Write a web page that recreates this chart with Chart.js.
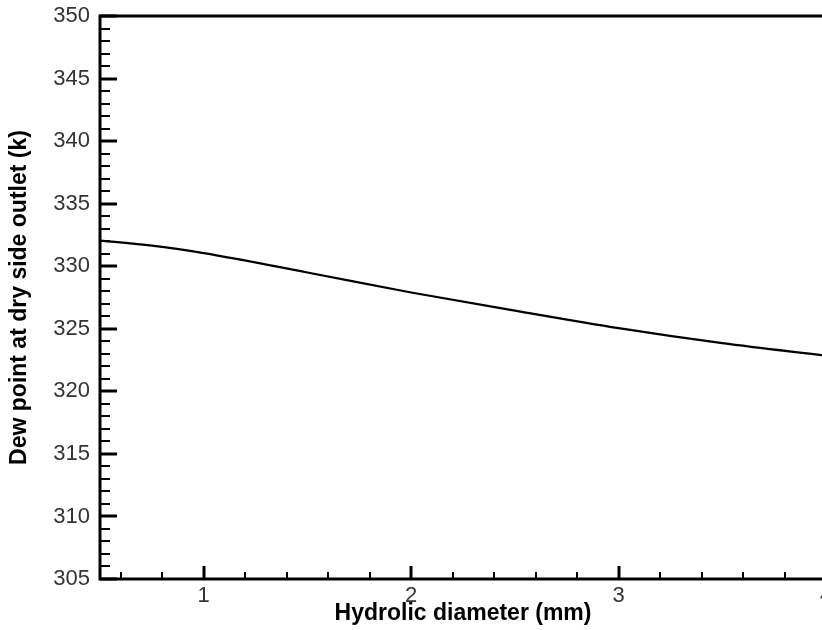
<!DOCTYPE html>
<html>
<head>
<meta charset="utf-8">
<script src="https://cdn.jsdelivr.net/npm/chart.js@4.4.1/dist/chart.umd.min.js"></script>
<style>
  html, body { margin: 0; padding: 0; background: #fff; overflow: hidden; }
  canvas { display: block; }
</style>
</head>
<body>
<canvas id="myChart" width="836" height="630" style="width:836px;height:630px"></canvas>
<script>
// hydraulic diameter (mm) vs dew point at the dry side outlet (K)
const diameters = [0.5, 0.75, 1, 1.5, 2, 2.5, 3, 3.5, 4];
const dewPoints = [332.05, 331.65, 331.05, 329.5, 327.9, 326.45, 325.05, 323.85, 322.85];

const xMajor = [1, 2, 3, 4];
const yMajor = [305, 310, 315, 320, 325, 330, 335, 340, 345, 350];

const points = [];
for (let i = 0; i < diameters.length; i++) {
    points.push({ x: diameters[i], y: dewPoints[i] });
}

const FONT = '"Liberation Sans", Arial, sans-serif';

// frame with ticks pointing into the plot
const frame = {
    id: 'frame',
    afterDraw(chart) {
        const ctx = chart.ctx;
        const area = chart.chartArea;
        const xs = chart.scales.x;
        const ys = chart.scales.y;
        ctx.save();
        ctx.strokeStyle = '#000';
        ctx.lineCap = 'butt';

        // minor ticks
        ctx.lineWidth = 2;
        for (let v = 0.6; v < 4.01; v += 0.2) {
            const px = Math.round(xs.getPixelForValue(v));
            ctx.beginPath();
            ctx.moveTo(px, area.bottom);
            ctx.lineTo(px, area.bottom - 7);
            ctx.stroke();
        }
        for (let v = 306; v < 350; v++) {
            const py = Math.round(ys.getPixelForValue(v));
            ctx.beginPath();
            ctx.moveTo(area.left, py);
            ctx.lineTo(area.left + 10, py);
            ctx.stroke();
        }

        // major ticks
        ctx.lineWidth = 3;
        for (const v of xMajor) {
            const px = Math.round(xs.getPixelForValue(v));
            ctx.beginPath();
            ctx.moveTo(px, area.bottom);
            ctx.lineTo(px, area.bottom - 13);
            ctx.stroke();
        }
        for (const v of yMajor) {
            const py = Math.round(ys.getPixelForValue(v));
            ctx.beginPath();
            ctx.moveTo(area.left, py);
            ctx.lineTo(area.left + 17, py);
            ctx.stroke();
        }

        // box
        ctx.lineWidth = 3;
        ctx.strokeRect(area.left, area.top, area.right - area.left, area.bottom - area.top);
        ctx.restore();
    }
};

const ctx = document.getElementById('myChart').getContext('2d');

const myChart = new Chart(ctx, { // eslint-disable-line
    type: 'line',
    data: {
        datasets: [{
            data: points,
            borderColor: '#000',
            borderWidth: 2.2,
            pointRadius: 0,
            fill: false,
            cubicInterpolationMode: 'monotone'
        }]
    },
    options: {
        responsive: false,
        animation: false,
        events: [],
        layout: { padding: { left: 0, top: 16, right: 10, bottom: 0 } },
        plugins: {
            legend: { display: false },
            tooltip: { enabled: false }
        },
        scales: {
            x: {
                type: 'linear',
                min: 0.5,
                max: 4,
                afterBuildTicks: (scale) => {
                    scale.ticks = xMajor.map(v => ({ value: v }));
                },
                afterFit: (scale) => {
                    scale.height = 51;
                    scale.paddingLeft = 0;
                    scale.paddingRight = 0;
                },
                grid: { display: false, drawTicks: false },
                border: { display: false },
                ticks: {
                    padding: 4,
                    maxRotation: 0,
                    color: '#333',
                    font: { family: FONT, size: 22 }
                },
                title: {
                    display: true,
                    text: 'Hydrolic diameter (mm)',
                    color: '#000',
                    padding: { top: 0, bottom: 3 },
                    font: { family: FONT, size: 23, weight: 'bold' }
                }
            },
            y: {
                min: 305,
                max: 350,
                afterBuildTicks: (scale) => {
                    scale.ticks = yMajor.map(v => ({ value: v }));
                },
                afterFit: (scale) => {
                    scale.width = 100;
                    scale.paddingTop = 0;
                    scale.paddingBottom = 0;
                },
                grid: { display: false, drawTicks: false },
                border: { display: false },
                ticks: {
                    padding: 10,
                    color: '#333',
                    font: { family: FONT, size: 22 }
                },
                title: {
                    display: true,
                    text: 'Dew point at dry side outlet (k)',
                    color: '#000',
                    padding: { top: 6, bottom: 0 },
                    font: { family: FONT, size: 23, weight: 'bold' }
                }
            }
        }
    },
    plugins: [frame]
});
</script>
</body>
</html>
